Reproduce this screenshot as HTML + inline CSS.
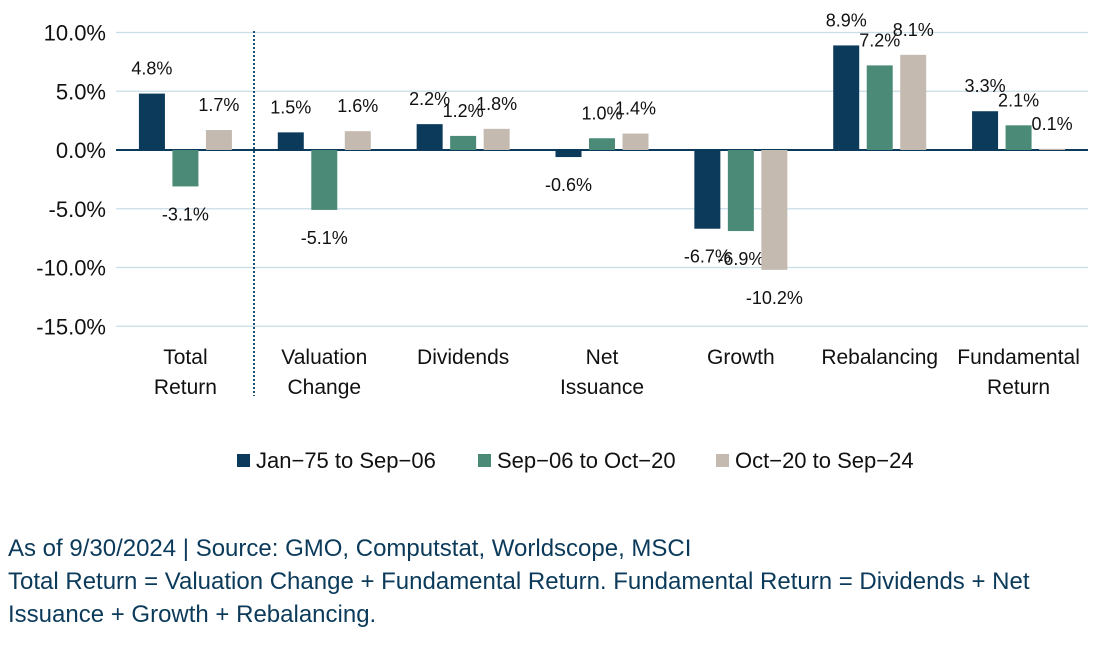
<!DOCTYPE html>
<html><head><meta charset="utf-8"><style>
body{margin:0;background:#fff;width:1110px;height:649px;overflow:hidden}
svg text{font-family:"Liberation Sans",sans-serif}
.foot{position:absolute;left:8px;font-family:"Liberation Sans",sans-serif;font-size:24px;color:#0b3a5a;line-height:33px;white-space:nowrap}
</style></head><body>
<svg id="chart" width="1110" height="649" style="position:absolute;left:0;top:0"></svg>
<div class="foot" style="top:532px">As of 9/30/2024 | Source: GMO, Computstat, Worldscope, MSCI<br>Total Return = Valuation Change + Fundamental Return. Fundamental Return = Dividends + Net<br>Issuance + Growth + Rebalancing.</div>
<script>
const categories=[["Total","Return"],["Valuation","Change"],["Dividends"],["Net","Issuance"],["Growth"],["Rebalancing"],["Fundamental","Return"]];
const seriesNames=["Jan\u221275 to Sep\u221206","Sep\u221206 to Oct\u221220","Oct\u221220 to Sep\u221224"];
const s1=[4.8,1.5,2.2,-0.6,-6.7,8.9,3.3];
const s2=[-3.1,-5.1,1.2,1.0,-6.9,7.2,2.1];
const s3=[1.7,1.6,1.8,1.4,-10.2,8.1,0.1];
const ticks=[10,5,0,-5,-10,-15];
const colors=["#0b3a5a","#4a8a76","#c4bab0"];
const NS="http://www.w3.org/2000/svg";
const svg=document.getElementById('chart');
const x0=116,x1=1088,catW=(x1-x0)/categories.length;
const y=v=>150-v*11.75;
const cx=i=>x0+catW*(i+0.5);
const SX=1;
function mk(t,a,p){const e=document.createElementNS(NS,t);for(const k in a)e.setAttribute(k,a[k]);(p||svg).appendChild(e);return e;}
function txt(x,yy,s,size,anchor){const t=mk('text',{x:0,y:0,transform:'translate('+x+','+yy+') scale('+SX+',1)','text-anchor':anchor,'font-size':size,fill:'#111'});t.textContent=s;return t;}
ticks.forEach(t=>{
  const g=mk('line',{x1:x0,x2:x1,y1:y(t),y2:y(t),stroke:t===0?'#0b3a5a':'#c8dde8','stroke-width':t===0?2:1.3});
  
  
  const l=txt(106,y(t)+8,t.toFixed(1)+'%',22,'end');
  
  
});
const dl=mk('line',{x1:254,x2:254,y1:31,y2:396,stroke:'#1d4f73','stroke-width':2,'stroke-dasharray':'2,2'});


const series=[s1,s2,s3];
series.forEach((s,j)=>{
  s.forEach((v,i)=>{
    const bx=cx(i)+(j-1)*33.5-13;
    const top=Math.min(y(v),y(0)),h=Math.abs(y(v)-y(0));
    const r=mk('rect',{x:bx,y:top,width:26,height:Math.max(h,0.5),fill:colors[j]});
    
    
    const ly=v>=0?y(v)-19:y(v)+34;
    const t=txt(bx+13,ly,v.toFixed(1)+'%',18,'middle');
    
    
  });
});
categories.forEach((c,i)=>{
  c.forEach((ln,k)=>{
    const t=txt(cx(i),364+k*30,ln,21,'middle');
    
    
  });
});
const lx=[237,478,716];
seriesNames.forEach((n,j)=>{
  const r=mk('rect',{x:lx[j],y:454,width:13,height:13,fill:colors[j]});
  
  
  const t=txt(lx[j]+19,468,n,22,'start');
  
  
});
</script>
</body></html>
